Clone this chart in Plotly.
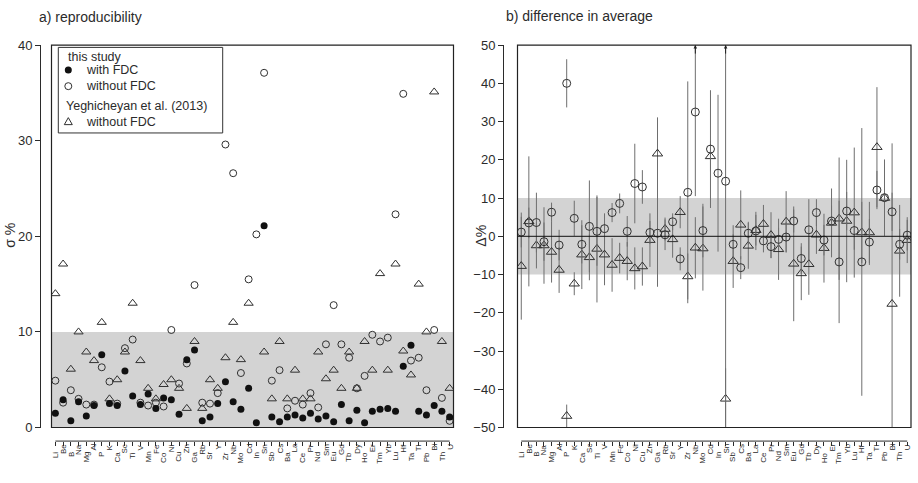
import plotly.graph_objects as go

elements = ["Li","Be","B","Na","Mg","Al","P","K","Ca","Sc","Ti","V","Mn","Fe","Co","Ni",
            "Cu","Zn","Ga","Rb","Sr","Y","Zr","Nb","Mo","Cd","In","Sn","Sb","Cs","Ba","La",
            "Ce","Pr","Nd","Sm","Eu","Gd","Tb","Dy","Ho","Er","Tm","Yb","Lu","Hf","Ta","Tl",
            "Pb","Bi","Th","U"]

# a) reproducibility (sigma %)
rep_with_fdc = [1.5,2.9,0.7,2.7,1.2,2.3,7.6,2.5,2.3,5.9,3.3,2.4,3.5,2.0,3.1,2.9,
                1.4,7.1,8.1,0.7,1.1,2.5,4.8,2.7,1.9,4.1,0.5,21.1,1.1,0.6,1.1,1.3,
                1.0,1.5,0.9,1.2,0.6,2.4,0.7,1.8,0.5,1.7,1.9,2.0,1.7,6.4,8.6,1.7,
                1.3,2.3,1.7,1.1]
rep_without_fdc = [4.9,2.6,3.9,3.0,2.4,2.4,6.3,4.8,2.5,8.3,9.2,2.6,2.3,2.6,2.2,10.2,
                   4.6,6.7,14.9,2.6,2.5,3.6,29.6,26.6,5.7,15.5,20.2,37.1,4.9,6.0,2.0,2.8,
                   2.4,3.6,2.1,8.7,12.8,8.7,7.3,4.1,5.4,9.7,9.0,9.4,22.3,34.9,7.0,7.3,
                   3.9,10.2,3.1,0.7]
rep_yeghicheyan = [14.0,17.1,6.1,10.0,7.9,7.0,11.0,3.0,5.0,7.9,13.0,7.0,4.1,3.0,4.5,5.0,
                   4.1,2.0,9.0,2.0,5.0,4.1,7.3,11.0,7.1,13.0,None,7.9,3.0,9.0,3.0,6.0,
                   3.0,3.0,7.9,5.1,6.0,4.1,7.9,4.1,9.0,6.0,16.1,6.0,17.1,8.0,5.5,15.0,
                   10.0,35.1,9.0,4.1]

# b) difference in average (delta %)
diff_circle = [1.1,3.5,3.6,-1.4,6.3,-2.3,40.0,4.7,-2.1,2.6,1.3,2.0,6.2,8.6,1.3,13.8,
               12.9,1.0,0.8,0.4,3.8,-5.9,11.5,32.5,1.5,22.8,16.5,14.4,-2.1,-8.2,0.8,1.4,
               -1.2,-2.7,-0.8,-0.2,4.0,-5.8,1.7,6.2,-1.0,4.0,-6.7,6.6,1.5,-6.7,-1.5,12.1,
               10.1,6.4,-2.1,0.3]
diff_circle_err = [4,4,7.8,5,2.5,4,6.3,4.6,5,12,9,4,2.5,2.6,4,10.4,
                   4.4,3,14,4,2.2,3,29,22,7,15.4,20.5,70,5,3,3,5,
                   3,3,3,4,3,4,8,3.5,4,4,16,5,5,35,6,5,
                   10,5,4,4]
diff_triangle = [-7.8,3.9,-2.4,-2.4,-4.1,-8.8,-47.0,-12.4,-4.8,-5.5,-3.3,-4.8,-7.5,-5.7,-6.5,-8.4,
                 -7.9,-1.0,21.6,1.9,-0.8,6.3,-10.5,-3.0,-3.2,20.9,None,-42.5,-6.5,3.0,-2.5,1.6,
                 3.2,0.3,-3.4,3.8,-7.2,-9.7,-7.3,0.4,-3.1,3.5,4.6,4.0,6.2,1.0,1.0,23.3,
                 10.0,-17.7,-3.8,-1.0]
diff_triangle_err = [14,17,6,10,8,6,3,3,9,6,14,8,7,4,5,5.5,
                     5,7,9.5,3,4.8,4.2,6,8,11,4,None,8,7,9,6,4,
                     5,6,8,8,15,7,8,5,9,9,16,16,17,8,8,15.7,
                     2,42,12,6]

W, H = 918, 483
FONT = "Liberation Sans, Arial, sans-serif"
TXT = "#2b2b2b"
BAR = "#6e6e6e"

def px_x(p): return p / W
def px_y(p): return 1 - p / H

L_DOM = [px_x(51.5), px_x(453.5)]
R_DOM = [px_x(517.5), px_x(911.0)]
Y_DOM = [px_y(434.0), px_y(39.3)]
X_AXIS_Y = px_y(448.0)

fig = go.Figure()

mk_line = dict(color="#303030", width=1)

# left panel
fig.add_trace(go.Scatter(x=elements, y=rep_yeghicheyan, mode="markers", xaxis="x", yaxis="y",
    marker=dict(symbol="triangle-up-open", size=8, line=mk_line, color="#303030"), showlegend=False))
fig.add_trace(go.Scatter(x=elements, y=rep_without_fdc, mode="markers", xaxis="x", yaxis="y",
    marker=dict(symbol="circle-open", size=7, line=mk_line, color="#303030"), showlegend=False))
fig.add_trace(go.Scatter(x=elements, y=rep_with_fdc, mode="markers", xaxis="x", yaxis="y",
    marker=dict(symbol="circle", size=7, color="#111111", line=dict(width=0)), showlegend=False))

# right panel
fig.add_trace(go.Scatter(x=elements, y=diff_triangle, mode="markers", xaxis="x2", yaxis="y2",
    error_y=dict(type="data", array=diff_triangle_err, color=BAR, thickness=1, width=0),
    marker=dict(symbol="triangle-up-open", size=9, line=mk_line, color="#303030"), showlegend=False))
fig.add_trace(go.Scatter(x=elements, y=diff_circle, mode="markers", xaxis="x2", yaxis="y2",
    error_y=dict(type="data", array=diff_circle_err, color=BAR, thickness=1, width=0),
    marker=dict(symbol="circle-open", size=8, line=mk_line, color="#303030"), showlegend=False))

axis_common = dict(showgrid=False, zeroline=False, ticks="outside", linecolor=TXT, tickcolor=TXT,
                   tickfont=dict(family=FONT, size=13, color=TXT))

fig.update_layout(
    width=W, height=H, margin=dict(l=0, r=0, t=0, b=0),
    paper_bgcolor="white", plot_bgcolor="white",
    xaxis=dict(domain=L_DOM, type="category", range=[-0.5, 51.5], anchor="free", position=X_AXIS_Y,
               showline=False, ticks="outside", ticklen=4, tickcolor=TXT, tickmode="array",
               tickvals=elements, showticklabels=False, showgrid=False, zeroline=False),
    yaxis=dict(domain=Y_DOM, range=[0, 40], anchor="free", position=px_x(40), showline=True,
               ticklen=5, tickvals=[0, 10, 20, 30, 40], **axis_common),
    xaxis2=dict(domain=R_DOM, type="category", range=[-0.5, 51.5], anchor="free", position=X_AXIS_Y,
                showline=False, ticks="outside", ticklen=4, tickcolor=TXT, tickmode="array",
                tickvals=elements, showticklabels=False, showgrid=False, zeroline=False),
    yaxis2=dict(domain=Y_DOM, range=[-50, 50], anchor="free", position=px_x(503), showline=True,
                ticklen=5, tickvals=list(range(-50, 51, 10)), **axis_common),
)

shapes = []
# bands
shapes.append(dict(type="rect", xref="x domain", yref="y", x0=0, x1=1, y0=0, y1=10,
                   fillcolor="#d3d3d3", line=dict(width=0), layer="below"))
shapes.append(dict(type="rect", xref="x2 domain", yref="y2", x0=0, x1=1, y0=-10, y1=10,
                   fillcolor="#d3d3d3", line=dict(width=0), layer="below"))
# zero line
shapes.append(dict(type="line", xref="x2 domain", yref="y2", x0=0, x1=1, y0=0, y1=0,
                   line=dict(color="#111111", width=1)))
# boxes
for xr, yr in (("x domain", "y domain"), ("x2 domain", "y2 domain")):
    shapes.append(dict(type="rect", xref=xr, yref=yr, x0=0, x1=1, y0=0, y1=1,
                       line=dict(color="#222222", width=1.2), fillcolor="rgba(0,0,0,0)"))
# x axis lines (first to last tick)
for xr in ("x", "x2"):
    shapes.append(dict(type="line", xref=xr, yref="paper", x0=elements[0], x1=elements[-1],
                       y0=X_AXIS_Y, y1=X_AXIS_Y, line=dict(color=TXT, width=1)))

# legend box (manual)
shapes.append(dict(type="rect", xref="paper", yref="paper", x0=px_x(58.3), x1=px_x(222.7),
                   y0=px_y(130), y1=px_y(41.7), line=dict(color="#333333", width=1),
                   fillcolor="white"))
lx = px_x(68.3)
shapes.append(dict(type="circle", xref="paper", yref="paper", xsizemode="pixel", ysizemode="pixel",
                   xanchor=lx, yanchor=px_y(65), x0=-3.5, x1=3.5, y0=-3.5, y1=3.5,
                   fillcolor="#111111", line=dict(width=0)))
shapes.append(dict(type="circle", xref="paper", yref="paper", xsizemode="pixel", ysizemode="pixel",
                   xanchor=lx, yanchor=px_y(81.7), x0=-3.5, x1=3.5, y0=-3.5, y1=3.5,
                   fillcolor="rgba(0,0,0,0)", line=dict(color="#303030", width=1)))
shapes.append(dict(type="path", xref="paper", yref="paper", xsizemode="pixel", ysizemode="pixel",
                   xanchor=lx, yanchor=px_y(118.3), path="M -4,-3 L 4,-3 L 0,4 Z",
                   fillcolor="rgba(0,0,0,0)", line=dict(color="#303030", width=1)))
fig.update_layout(shapes=shapes)

ann = []
def text(x, y, s, size=12.5, xanchor="left", yanchor="middle", angle=0, xref="paper"):
    ann.append(dict(x=x, y=y, xref=xref, yref="paper", text=s, showarrow=False,
                    xanchor=xanchor, yanchor=yanchor, textangle=angle,
                    font=dict(family=FONT, size=size, color=TXT), borderpad=0))

text(px_x(38), px_y(10), "a) reproducibility", size=14)
text(px_x(505), px_y(9), "b) difference in average", size=14)
text(px_x(10), px_y(236), "σ %", size=14, xanchor="center", angle=-90)
text(px_x(481), px_y(236), "Δ%", size=14, xanchor="center", angle=-90)
text(px_x(67), px_y(51.7), "this study")
text(px_x(85), px_y(65), "with FDC")
text(px_x(85), px_y(81.7), "without FDC")
text(px_x(65), px_y(101.7), "Yeghicheyan et al. (2013)")
text(px_x(85), px_y(118.3), "without FDC")

# staggered rotated element labels
for xr in ("x", "x2"):
    for i, el in enumerate(elements):
        top = 450 if i % 2 == 1 else 458
        text(el, px_y(top), el, size=8, xanchor="center", yanchor="top", angle=-90, xref=xr)

# arrows for error bars beyond the axis
for el in ("Nb", "Sn"):
    ann.append(dict(x=el, y=50, xref="x2", yref="y2", text="", showarrow=True, ax=0, ay=10,
                    arrowhead=2, arrowsize=0.7, arrowwidth=1, arrowcolor="#222222"))

fig.update_layout(annotations=ann)
fig.write_html("out.html")
